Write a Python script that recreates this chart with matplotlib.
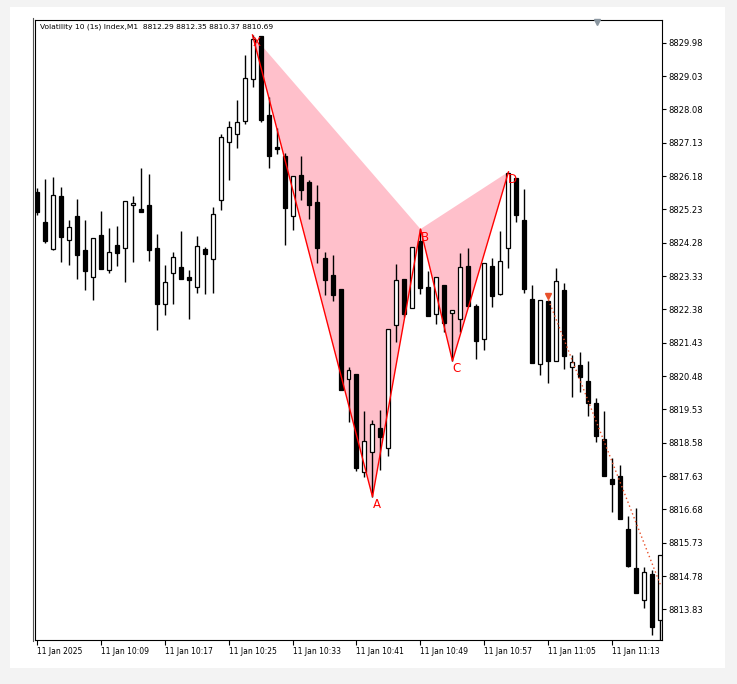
#!/usr/bin/env python3

import matplotlib
matplotlib.use('Agg')
import matplotlib.pyplot as plt
from matplotlib.patches import Rectangle, Polygon
from matplotlib.lines import Line2D

# one minute candles, 10:01 .. 11:19
opens = [8825.73, 8824.87, 8824.10, 8825.61, 8824.35, 8825.04, 8824.07, 8823.30, 8824.50, 8823.50,
	8824.21, 8824.14, 8825.35, 8825.24, 8825.36, 8824.12, 8822.54, 8823.41, 8823.59, 8823.30,
	8823.01, 8824.10, 8823.81, 8825.49, 8827.14, 8827.37, 8827.75, 8828.94, 8830.17, 8827.92,
	8827.01, 8826.75, 8825.03, 8826.21, 8826.01, 8825.44, 8823.85, 8823.36, 8822.96, 8820.39,
	8820.54, 8817.76, 8818.31, 8819.00, 8818.44, 8821.93, 8823.25, 8822.41, 8824.33, 8823.02,
	8822.24, 8823.08, 8822.27, 8822.10, 8823.62, 8822.48, 8821.53, 8823.62, 8822.82, 8824.12,
	8826.12, 8824.93, 8822.68, 8820.82, 8822.62, 8820.92, 8822.93, 8820.73, 8820.79, 8820.34,
	8819.71, 8818.69, 8817.54, 8817.63, 8816.13, 8815.01, 8814.09, 8814.83, 8813.52]
highs = [8825.84, 8826.10, 8826.15, 8825.87, 8824.93, 8825.53, 8824.93, 8824.41, 8825.18, 8824.70,
	8824.76, 8825.46, 8825.61, 8826.41, 8826.24, 8824.52, 8823.65, 8824.01, 8824.62, 8823.50,
	8824.47, 8824.16, 8825.30, 8827.38, 8827.75, 8828.35, 8829.63, 8830.20, 8830.17, 8828.44,
	8827.55, 8826.84, 8826.17, 8826.75, 8826.07, 8825.93, 8824.02, 8823.92, 8822.96, 8820.74,
	8820.54, 8819.49, 8819.24, 8819.52, 8821.82, 8823.68, 8823.25, 8824.16, 8824.67, 8823.48,
	8823.30, 8823.08, 8822.36, 8823.99, 8824.13, 8822.54, 8823.69, 8823.85, 8824.62, 8826.30,
	8826.12, 8825.81, 8823.08, 8822.64, 8822.62, 8823.56, 8823.12, 8821.07, 8821.16, 8820.91,
	8819.85, 8819.49, 8818.14, 8817.95, 8816.49, 8816.71, 8815.03, 8814.96, 8815.37]
lows = [8825.07, 8824.28, 8824.07, 8823.74, 8823.65, 8823.26, 8822.94, 8822.66, 8823.54, 8823.43,
	8823.63, 8823.17, 8823.74, 8825.16, 8823.77, 8821.79, 8822.23, 8822.54, 8823.26, 8822.12,
	8822.86, 8822.83, 8822.86, 8825.22, 8826.08, 8826.97, 8827.65, 8828.73, 8827.73, 8826.42,
	8826.82, 8824.22, 8824.65, 8825.50, 8824.97, 8823.71, 8822.79, 8822.63, 8820.07, 8819.18,
	8817.78, 8817.61, 8817.04, 8817.81, 8818.21, 8821.46, 8822.17, 8822.41, 8822.82, 8822.20,
	8821.97, 8821.75, 8820.91, 8821.75, 8822.48, 8820.97, 8821.22, 8822.46, 8822.79, 8823.57,
	8824.86, 8822.86, 8820.86, 8820.51, 8820.29, 8820.92, 8820.67, 8819.87, 8820.04, 8819.35,
	8818.60, 8817.64, 8816.62, 8816.42, 8815.05, 8814.31, 8813.88, 8813.09, 8812.82]
closes = [8825.16, 8824.34, 8825.64, 8824.45, 8824.72, 8823.94, 8823.46, 8824.41, 8823.54, 8824.01,
	8824.00, 8825.46, 8825.41, 8825.16, 8824.08, 8822.52, 8823.15, 8823.87, 8823.26, 8823.23,
	8824.18, 8823.97, 8825.09, 8827.28, 8827.57, 8827.71, 8828.97, 8830.08, 8827.78, 8826.76,
	8826.96, 8825.28, 8826.17, 8825.79, 8825.36, 8824.14, 8823.22, 8822.79, 8820.09, 8820.65,
	8817.86, 8818.62, 8819.11, 8818.73, 8821.82, 8823.22, 8822.24, 8824.16, 8822.99, 8822.20,
	8823.30, 8822.00, 8822.36, 8823.59, 8822.48, 8821.49, 8823.69, 8822.77, 8823.76, 8826.26,
	8825.07, 8822.97, 8820.86, 8822.64, 8820.92, 8823.18, 8821.06, 8820.89, 8820.44, 8819.72,
	8818.78, 8817.64, 8817.40, 8816.42, 8815.08, 8814.31, 8814.91, 8813.34, 8815.37]

# XABCD pattern points (bar index, price)
pattern_names = ['X', 'A', 'B', 'C', 'D']
pattern_bars = [27, 42, 48, 52, 59]
pattern_prices = [8830.20, 8817.04, 8824.67, 8820.91, 8826.30]

# sell arrow and its dotted trend line
arrow_bar = 64
arrow_price = 8822.76
trend_bars = [64, 78]
trend_prices = [8822.65, 8814.53]

time_ticks = list(range(0, 79, 8))
time_labels = ['11 Jan 2025', '11 Jan 10:09', '11 Jan 10:17', '11 Jan 10:25', '11 Jan 10:33',
	'11 Jan 10:41', '11 Jan 10:49', '11 Jan 10:57', '11 Jan 11:05', '11 Jan 11:13']
price_ticks = [8813.83 + 0.95 * i for i in range(18)]

title = 'Volatility 10 (1s) Index,M1  8812.29 8812.35 8810.37 8810.69'

W, H = 737, 684
fig = plt.figure(figsize=(W / 100, H / 100), dpi=100, facecolor='#f3f3f3')

# white chart panel
fig.patches.append(Rectangle((10 / W, 1 - 668 / H), 715 / W, 661 / H, transform=fig.transFigure,
	facecolor='white', edgecolor='none', zorder=-5))

ax = fig.add_axes([35 / W, 1 - 640 / H, 627 / W, 620 / H])
ax.set_facecolor('white')
ax.set_xlim(-0.19, 78.19)
ax.set_ylim(8812.96, 8830.626)

# pattern fill (behind candles)
xs = pattern_bars
ys = pattern_prices
ax.add_patch(Polygon([(xs[0], ys[0]), (xs[1], ys[1]), (xs[2], ys[2])], closed=True,
	facecolor='#ffc0cb', edgecolor='none', zorder=1))
ax.add_patch(Polygon([(xs[2], ys[2]), (xs[3], ys[3]), (xs[4], ys[4])], closed=True,
	facecolor='#ffc0cb', edgecolor='none', zorder=1))

# candles
for i in range(len(opens)):
	o, h, l, c = opens[i], highs[i], lows[i], closes[i]
	ax.vlines(i, l, h, color='black', lw=1.0, zorder=2)
	bull = c >= o
	bottom = min(o, c)
	height = max(abs(c - o), 0.03)
	ax.add_patch(Rectangle((i - 0.25, bottom), 0.5, height,
		facecolor='white' if bull else 'black', edgecolor='black', lw=0.9, zorder=3))

# pattern zigzag
ax.plot(xs, ys, color='red', lw=1.0, zorder=4)
for name, b, p in zip(pattern_names, xs, ys):
	ax.annotate(name, (b, p), xytext=(4, -8), textcoords='offset pixels', color='red',
		fontsize=8.5, ha='center', va='center', zorder=5)

ax.plot(trend_bars, trend_prices, color='#e8502a', lw=1.0, linestyle=(0, (1, 2)), zorder=4)
ax.plot([arrow_bar], [arrow_price], marker='v', color='#e8502a', markersize=5, zorder=5)

# axes styling, MT5 like
for s in ax.spines.values():
	s.set_linewidth(0.8)
	s.set_color('black')
ax.yaxis.tick_right()
ax.set_yticks(price_ticks)
ax.set_yticklabels(['%.2f' % v for v in price_ticks], fontsize=6)
ax.tick_params(axis='y', direction='out', length=3, width=0.8, pad=1.5)
ax.set_xticks(time_ticks)
ax.set_xticklabels(time_labels, fontsize=5.5, ha='left')
ax.tick_params(axis='x', direction='out', length=3.5, width=0.8, pad=1.5)

ax.text(5 / 627, 1 - 7 / 620, title, transform=ax.transAxes, fontsize=5.4, va='center', ha='left')

# second border line on the left and chart shift marker
fig.add_artist(Line2D([33 / W, 33 / W], [1 - 18 / H, 1 - 641 / H], color='#555555', lw=0.8))
ax.plot([70.06], [8830.56], marker='v', color='#8a96a0', markersize=4.2, clip_on=False, zorder=6)

fig.savefig('out.png', dpi=100, facecolor=fig.get_facecolor())
